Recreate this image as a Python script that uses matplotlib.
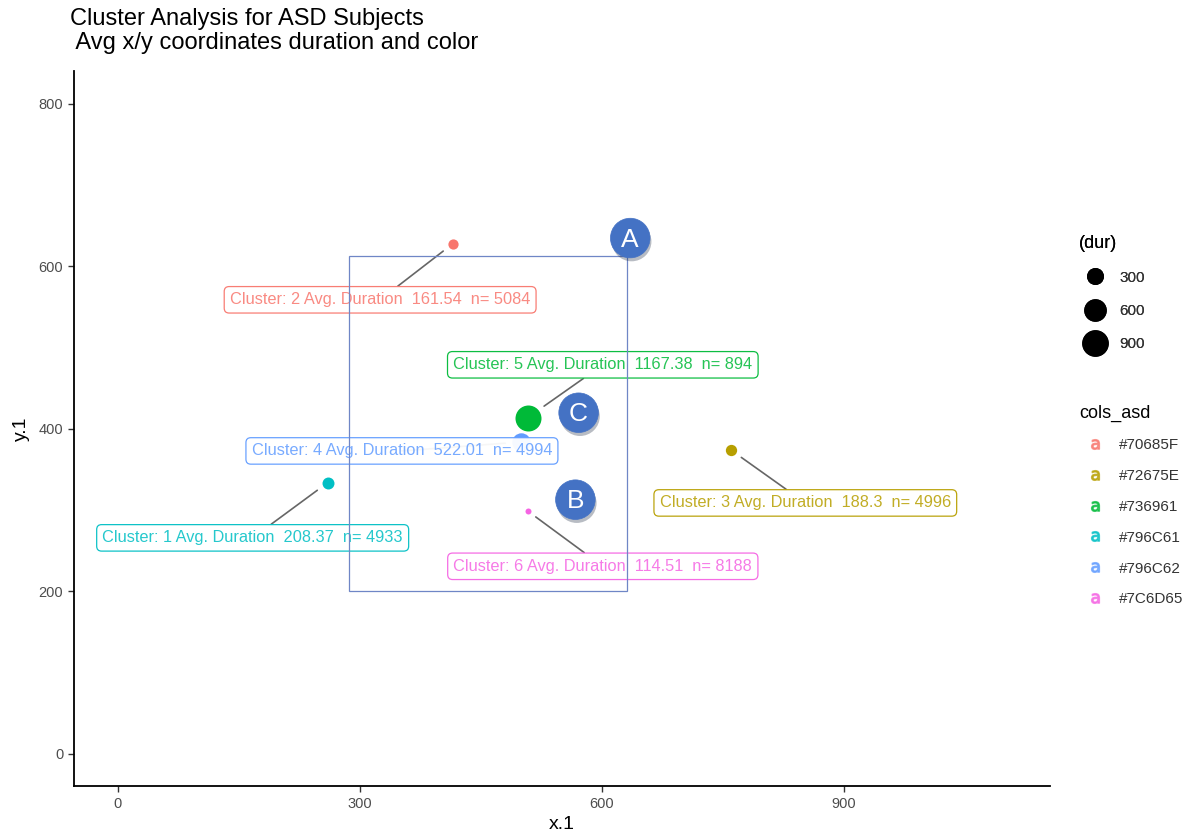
import numpy as np
import matplotlib
matplotlib.use("Agg")
import matplotlib.pyplot as plt
import matplotlib.patheffects as pe
from matplotlib.lines import Line2D
from matplotlib.patches import Rectangle

plt.rcParams['font.family'] = ['Liberation Sans', 'DejaVu Sans']

# cluster averages
cluster = [1, 2, 3, 4, 5, 6]
x_avg = [260, 415, 760, 500, 508, 508]
y_avg = [334, 628, 374, 384, 414, 299]
dur = [208.37, 161.54, 188.3, 522.01, 1167.38, 114.51]
n_obs = [4933, 5084, 4996, 4994, 894, 8188]
cols_asd = ['#796C61', '#70685F', '#72675E', '#796C62', '#736961', '#7C6D65']

size_breaks = [300, 600, 900]

# highlighted region and callouts
box_x = [286, 631]
box_y = [200, 613]
callout_text = ['A', 'B', 'C']
callout_x = [635, 567, 571]
callout_y = [635, 313, 420]

# label offsets (data units) like ggrepel placed them
label_dx = [-93, -90, 92, -148, 93, 93]
label_dy = [-68, -69, -65, -11, 65, -68]

# ggplot hue palette, mapped to sorted cols_asd levels
hue = ['#F8766D', '#B79F00', '#00BA38', '#00BFC4', '#619CFF', '#F564E3']
levels = sorted(set(cols_asd))
colmap = dict(zip(levels, hue))

dmin, dmax = min(dur), max(dur)


def diam_pt(d):
    # area scale like scale_size, in points
    px = 6 + 20 * np.sqrt(max(d - dmin, 0) / (dmax - dmin))
    return px * 0.72


fig = plt.figure(figsize=(12.04, 8.4), dpi=100)
ax = fig.add_axes([0.0611, 0.0637, 0.8108, 0.8512])

for i in range(len(cluster)):
    c = colmap[cols_asd[i]]
    ax.plot(x_avg[i], y_avg[i], 'o', ms=diam_pt(dur[i]), color=c, mec='none', zorder=3)

for i in range(len(cluster)):
    c = colmap[cols_asd[i]]
    txt = "Cluster: %d Avg. Duration  %s  n= %d" % (cluster[i], ("%.2f" % dur[i]).rstrip('0').rstrip('.'), n_obs[i])
    ax.annotate(txt, xy=(x_avg[i], y_avg[i]),
                xytext=(x_avg[i] + label_dx[i], y_avg[i] + label_dy[i]),
                ha='center', va='center', fontsize=11.8, color=c, alpha=0.85, zorder=5,
                bbox=dict(boxstyle='round,pad=0.35,rounding_size=0.3', fc='white', ec=c, lw=0.9, alpha=0.95),
                arrowprops=dict(arrowstyle='-', color='#666666', lw=1.2, shrinkA=0,
                                shrinkB=diam_pt(dur[i]) / 2 + 5))

ax.add_patch(Rectangle((box_x[0], box_y[0]), box_x[1] - box_x[0], box_y[1] - box_y[0],
                       fill=False, ec='#6F86C6', lw=0.9, zorder=6))

for t, cx, cy in zip(callout_text, callout_x, callout_y):
    ax.plot(cx, cy, 'o', ms=28.5, mfc='#4472C4', mec='#4472C4', mew=0.5, zorder=7,
            path_effects=[pe.SimplePatchShadow(offset=(1, -2.5), alpha=0.3), pe.Normal()])
    ax.text(cx, cy - 2, t, ha='center', va='center', color='white', fontsize=19, zorder=8)

ax.set_xlim(-55, 1155)
ax.set_ylim(-40, 840)
ax.set_xticks([0, 300, 600, 900])
ax.set_yticks([0, 200, 400, 600, 800])
ax.tick_params(colors='#333333', labelcolor='#4D4D4D', labelsize=10.5, length=4, width=1)
for s in ['top', 'right']:
    ax.spines[s].set_visible(False)
for s in ['left', 'bottom']:
    ax.spines[s].set_linewidth(1.3)
ax.set_xlabel('x.1', fontsize=14, labelpad=4)
ax.set_ylabel('y.1', fontsize=14, labelpad=6)

fig.text(0.058, 0.99, "Cluster Analysis for ASD Subjects\n Avg x/y coordinates duration and color",
         ha='left', va='top', fontsize=17, linespacing=1.1)

# legends
size_handles = [Line2D([], [], marker='o', ls='', color='black', ms=diam_pt(b) * 1.08) for b in size_breaks]
leg1 = fig.legend(size_handles, [str(b) for b in size_breaks], title='(dur)', loc='upper left',
                  bbox_to_anchor=(0.885, 0.737), frameon=False, fontsize=11, title_fontsize=13,
                  alignment='left', labelspacing=1.25, handletextpad=0.6, labelcolor='#333333')

col_handles = [Line2D([], [], marker=r'$\mathrm{a}$', ls='', color=colmap[l], ms=7, alpha=0.7) for l in levels]
leg2 = fig.legend(col_handles, levels, title='cols_asd', loc='upper left',
                  bbox_to_anchor=(0.885, 0.535), frameon=False, fontsize=11, title_fontsize=13,
                  alignment='left', labelspacing=1.1, handletextpad=0.6, labelcolor='#333333')
fig.add_artist(leg1)

fig.savefig('out.png', dpi=100)
